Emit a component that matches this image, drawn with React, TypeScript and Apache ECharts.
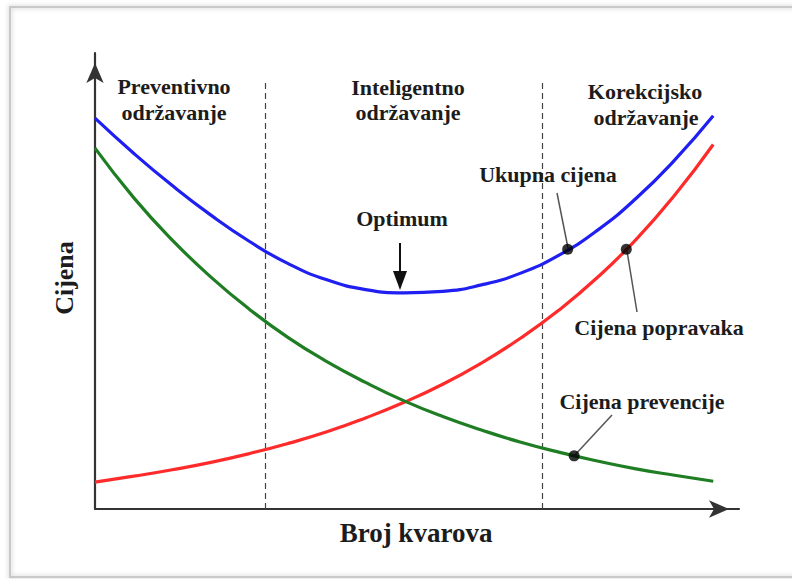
import React, { useEffect, useRef } from "react";
import * as echarts from "echarts";

// x positions (Broj kvarova, 0..100 scale) shared by all curves
const xs = [0, 6, 12, 18, 24, 30, 36, 42, 48, 54, 60, 66, 72, 78, 84, 90, 96];
// Ukupna cijena (blue)
const totalCost = [84.6, 77.0, 70.0, 63.6, 57.9, 53.1, 49.6, 47.5, 46.8, 47.1, 48.5, 51.0, 54.9, 60.3, 67.2, 75.5, 85.1];
// Cijena popravaka (red)
const repairCost = [5.8, 7.1, 8.5, 10.1, 12.0, 14.2, 16.7, 19.7, 23.1, 27.0, 31.6, 36.9, 43.0, 50.1, 58.3, 67.9, 78.9];
// Cijena prevencije (green)
const preventionCost = [78.1, 67.4, 58.2, 50.2, 43.2, 37.1, 31.9, 27.4, 23.4, 20.0, 17.1, 14.5, 12.3, 10.4, 8.7, 7.3, 6.0];
// zone boundaries (dashed lines)
const zoneBounds = [26.4, 69.5];
const zoneTop = 92.9;
// annotated points on curves
const markerPoints = [
  [73.4, 56.2],
  [82.5, 56.2],
  [74.4, 11.5],
];

const FONT = "'Liberation Serif', 'Times New Roman', serif";
const TXT = "#1c1c1c";

function label(text: string, x: number, y: number, size = 22, extra: any = {}) {
  return {
    type: "text",
    x,
    y,
    ...extra,
    style: {
      text,
      fill: TXT,
      font: `bold ${size}px ${FONT}`,
      textAlign: "center",
      textVerticalAlign: "middle",
    },
    z: 10,
  };
}

export default function App() {
  const ref = useRef<HTMLDivElement>(null);
  useEffect(() => {
    if (!ref.current) return;
    const chart = echarts.init(ref.current, null, { renderer: "svg" });
    const pairs = (ys: number[]) => xs.map((x, i) => [x, ys[i]]);
    const option: any = {
      animation: false,
      backgroundColor: "#ffffff",
      grid: { left: 95, right: 53, top: 53, bottom: 70 },
      xAxis: {
        type: "value",
        min: 0,
        max: 100,
        axisLine: {
          show: true,
          symbol: ["none", "arrow"],
          symbolSize: [13, 20],
          symbolOffset: [0, -10],
          lineStyle: { color: "#333", width: 2.2 },
        },
        axisTick: { show: false },
        axisLabel: { show: false },
        splitLine: { show: false },
      },
      yAxis: {
        type: "value",
        min: 0,
        max: 98.7,
        axisLine: {
          show: true,
          symbol: ["none", "arrow"],
          symbolSize: [13, 20],
          symbolOffset: [0, -10],
          lineStyle: { color: "#333", width: 2.2 },
        },
        axisTick: { show: false },
        axisLabel: { show: false },
        splitLine: { show: false },
      },
      series: [
        {
          type: "line",
          name: "Ukupna cijena",
          data: pairs(totalCost),
          smooth: 0.5,
          showSymbol: false,
          lineStyle: { color: "#1f1ff2", width: 3.2 },
          z: 3,
          markLine: {
            silent: true,
            symbol: "none",
            label: { show: false },
            lineStyle: { color: "#444", width: 1.2, type: [6, 4] },
            data: zoneBounds.map((b) => [{ coord: [b, 0] }, { coord: [b, zoneTop] }]),
            z: 1,
          },
        },
        {
          type: "line",
          name: "Cijena popravaka",
          data: pairs(repairCost),
          smooth: 0.5,
          showSymbol: false,
          lineStyle: { color: "#ff2b2b", width: 3.2 },
          z: 3,
        },
        {
          type: "line",
          name: "Cijena prevencije",
          data: pairs(preventionCost),
          smooth: 0.5,
          showSymbol: false,
          lineStyle: { color: "#1f7d23", width: 3.2 },
          z: 3,
        },
        {
          type: "scatter",
          data: markerPoints,
          symbolSize: 11,
          itemStyle: { color: "#000" },
          z: 5,
        },
      ],
      graphic: [
        {
          type: "rect",
          shape: { x: 10, y: 7, width: 800, height: 570 },
          style: {
            fill: "none",
            stroke: "#c9c9c9",
            lineWidth: 2,
            shadowBlur: 5,
            shadowColor: "rgba(0,0,0,0.25)",
          },
          z: 0,
        },
        label("Preventivno", 174, 86),
        label("održavanje", 174, 112),
        label("Inteligentno", 408, 87),
        label("održavanje", 408, 112),
        label("Korekcijsko", 645, 91),
        label("održavanje", 646, 117),
        label("Optimum", 402, 218),
        label("Ukupna cijena", 548, 174),
        label("Cijena popravaka", 659, 327),
        label("Cijena prevencije", 642, 401),
        label("Broj kvarova", 416, 533, 27),
        label("Cijena", 64, 278, 26, { rotation: Math.PI / 2 }),
        // Optimum arrow
        {
          type: "line",
          shape: { x1: 400, y1: 243, x2: 400, y2: 274 },
          style: { stroke: "#111", lineWidth: 2 },
          z: 10,
        },
        {
          type: "polygon",
          shape: { points: [[393, 271], [407, 271], [400, 290]] },
          style: { fill: "#111" },
          z: 10,
        },
        // leader lines
        {
          type: "line",
          shape: { x1: 557, y1: 193, x2: 568, y2: 248 },
          style: { stroke: "#555", lineWidth: 1.5 },
          z: 4,
        },
        {
          type: "line",
          shape: { x1: 627, y1: 251, x2: 637, y2: 312 },
          style: { stroke: "#555", lineWidth: 1.5 },
          z: 4,
        },
        {
          type: "line",
          shape: { x1: 612, y1: 415, x2: 574, y2: 456 },
          style: { stroke: "#555", lineWidth: 1.5 },
          z: 4,
        },
      ],
    };
    chart.setOption(option);
    return () => chart.dispose();
  }, []);
  return (
    <div
      ref={ref}
      style={{ position: "fixed", left: 0, top: 0, width: 792, height: 579, background: "#fff" }}
    />
  );
}
